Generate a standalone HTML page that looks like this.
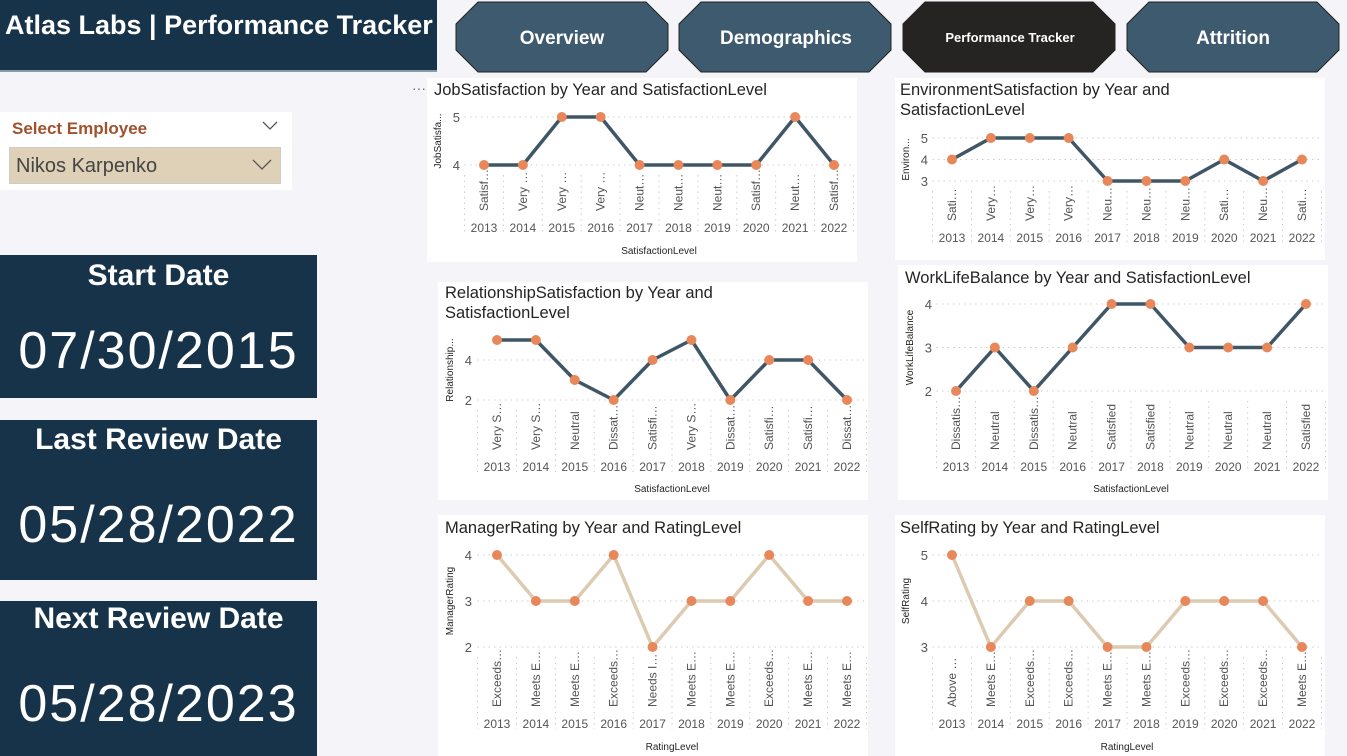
<!DOCTYPE html>
<html><head><meta charset="utf-8">
<style>
body{margin:0;width:1347px;height:756px;background:#f5f5f9;font-family:"Liberation Sans",sans-serif;position:relative;overflow:hidden}
.box{position:absolute;background:#17334a;color:#fff;text-align:center;font-weight:bold}
.panel{position:absolute;background:#fff}
</style></head><body>
<div class="box" style="left:0;top:0;width:437px;height:70px;text-align:left;border-bottom:2px solid #8a9aaa"><div style="position:absolute;left:5px;top:10px;font-size:27px;font-family:'Liberation Sans Narrow','Liberation Sans',sans-serif">Atlas Labs | Performance Tracker</div></div>

<svg style="position:absolute;left:0;top:0" width="1347" height="80">
<g><polygon points="478,2 646,2 668,24 668,50 646,72 478,72 456,50 456,24" fill="#3d5a6e" stroke="#222"/><text x="562" y="44" text-anchor="middle" fill="#fff" font-weight="bold" font-size="19">Overview</text></g>
<g><polygon points="701,2 869,2 891,24 891,50 869,72 701,72 679,50 679,24" fill="#3d5a6e" stroke="#222"/><text x="786" y="44" text-anchor="middle" fill="#fff" font-weight="bold" font-size="19">Demographics</text></g>
<g><polygon points="925,2 1093,2 1115,24 1115,50 1093,72 925,72 903,50 903,24" fill="#252423" stroke="#222"/><text x="1010" y="42" text-anchor="middle" fill="#fff" font-weight="bold" font-size="13">Performance Tracker</text></g>
<g><polygon points="1149,2 1317,2 1339,24 1339,50 1317,72 1149,72 1127,50 1127,24" fill="#3d5a6e" stroke="#222"/><text x="1233" y="44" text-anchor="middle" fill="#fff" font-weight="bold" font-size="19">Attrition</text></g>
</svg>

<div style="position:absolute;left:0;top:112px;width:292px;height:78px;background:#fff">
<div style="position:absolute;left:12px;top:7px;color:#a0522d;font-weight:bold;font-size:17px">Select Employee</div>
<svg style="position:absolute;left:262px;top:9px" width="16" height="10"><polyline points="1,1 8,8 15,1" fill="none" stroke="#555" stroke-width="1.3"/></svg>
<div style="position:absolute;left:9px;top:35px;width:272px;height:37px;background:#dfd1b7;border:1px solid #ccc;box-sizing:border-box">
<span style="position:absolute;left:6px;top:7px;font-size:20px;color:#444">Nikos Karpenko</span><svg style="position:absolute;right:8px;top:11px" width="20" height="12"><polyline points="1,1 10,10 19,1" fill="none" stroke="#555" stroke-width="1.3"/></svg></div></div>

<div class="box" style="left:0;top:255px;width:317px;height:143px"><div style="margin-top:4px;font-size:30px">Start Date</div><div style="font-size:52px;font-weight:normal;margin-top:28px;letter-spacing:2px">07/30/2015</div></div>
<div class="box" style="left:0;top:420px;width:317px;height:160px"><div style="margin-top:3px;font-size:30px">Last Review Date</div><div style="font-size:52px;font-weight:normal;margin-top:38px;letter-spacing:2px">05/28/2022</div></div>
<div class="box" style="left:0;top:601px;width:317px;height:155px"><div style="margin-top:1px;font-size:30px">Next Review Date</div><div style="font-size:52px;font-weight:normal;margin-top:38px;letter-spacing:2px">05/28/2023</div></div>

<svg id="charts" style="position:absolute;left:0;top:0" width="1347" height="756"></svg>

<script>
const years=["2013","2014","2015","2016","2017","2018","2019","2020","2021","2022"];
const jobCats=["Satisf…","Very …","Very …","Very …","Neut…","Neut…","Neut…","Satisf…","Neut…","Satisf…"];
const jobVals=[4,4,5,5,4,4,4,4,5,4];
const jobTicks=[4,5];
const envCats=["Sati…","Very…","Very…","Very…","Neu…","Neu…","Neu…","Sati…","Neu…","Sati…"];
const envVals=[4,5,5,5,3,3,3,4,3,4];
const envTicks=[3,4,5];
const relCats=["Very S…","Very S…","Neutral","Dissat…","Satisfi…","Very S…","Dissat…","Satisfi…","Satisfi…","Dissat…"];
const relVals=[5,5,3,2,4,5,2,4,4,2];
const relTicks=[2,4];
const wlbCats=["Dissatis…","Neutral","Dissatis…","Neutral","Satisfied","Satisfied","Neutral","Neutral","Neutral","Satisfied"];
const wlbVals=[2,3,2,3,4,4,3,3,3,4];
const wlbTicks=[2,3,4];
const mgrCats=["Exceeds…","Meets E…","Meets E…","Exceeds…","Needs I…","Meets E…","Meets E…","Exceeds…","Meets E…","Meets E…"];
const mgrVals=[4,3,3,4,2,3,3,4,3,3];
const mgrTicks=[2,3,4];
const selfCats=["Above …","Meets E…","Exceeds…","Exceeds…","Meets E…","Meets E…","Exceeds…","Exceeds…","Exceeds…","Meets E…"];
const selfVals=[5,3,4,4,3,3,4,4,4,3];
const selfTicks=[3,4,5];

const NS="http://www.w3.org/2000/svg";
const svg=document.getElementById('charts');
function mk(tag,a,p){const e=document.createElementNS(NS,tag);for(const k in a)e.setAttribute(k,a[k]);(p||svg).appendChild(e);return e;}

function chart(c,cats,vals,ticks){
  const g=mk('g',{});
  
  
  const bg=mk('rect',{x:c.px,y:c.py,width:c.pw,height:c.ph,fill:'#fff'},g);
  
  
  c.title.forEach((t,i)=>{const tt=mk('text',{x:c.tx,y:c.ty+i*20,'font-size':16.5,fill:'#252423'},g);tt.textContent=t;
    });
  const vmin=c.vmin,vmax=c.vmax;
  const yS=v=>c.yb+(v-vmin)/(vmax-vmin)*(c.yt-c.yb);
  const n=cats.length,step=(c.x1-c.x0)/(n-1);
  const xS=i=>c.x0+i*step;
  const gx0=c.x0-step/2,gx1=c.x1+step/2;
  ticks.forEach(t=>{
    mk('line',{x1:gx0,x2:gx1,y1:yS(t),y2:yS(t),stroke:'#ccc','stroke-dasharray':'1.5,4'},g);
    const l=mk('text',{x:c.ylx,y:yS(t)+5,'font-size':13,fill:'#555','text-anchor':'end'},g);l.textContent=t;
    
  });
  const yax=mk('text',{transform:`translate(${c.yax},${(c.yt+c.yb)/2}) rotate(-90)`,'font-size':10,fill:'#252423','text-anchor':'middle'},g);
  yax.textContent=c.ytitle;
  const gTop=Math.max(yS(vmin),yS(ticks[0]))+10;
  for(let i=0;i<=n;i++){const x=gx0+i*step;mk('line',{x1:x,x2:x,y1:gTop,y2:c.yearY+11,stroke:'#ccc','stroke-dasharray':'1.5,4'},g);}
  cats.forEach((s,i)=>{
    const t=mk('text',{transform:`translate(${xS(i)+4},${c.yearY-11}) rotate(-90)`,'font-size':12,fill:'#555'},g);t.textContent=s;
    
    const y=mk('text',{x:xS(i),y:c.yearY+10,'font-size':12,fill:'#555','text-anchor':'middle'},g);y.textContent=years[i];
    
  });
  const xt=mk('text',{x:(c.x0+c.x1)/2,y:c.xtY,'font-size':10,fill:'#252423','text-anchor':'middle'},g);xt.textContent=c.xtitle;
  
  const line=mk('polyline',{points:vals.map((v,i)=>xS(i)+','+yS(v)).join(' '),fill:'none',stroke:c.color,'stroke-width':3.5,'stroke-linejoin':'round'},g);
  
  vals.forEach((v,i)=>{const p=mk('circle',{cx:xS(i),cy:yS(v),r:5,fill:'#e8875a'},g);
    });
}
const dark='#3e5666',tan='#dccbb1';
chart({name:'job-satisfaction-chart',px:427,py:78,pw:430,ph:184,tx:434,ty:95,title:['JobSatisfaction by Year and SatisfactionLevel'],x0:484,x1:834,vmin:4,vmax:5,yb:165,yt:117,ylx:460,yax:441,ytitle:'JobSatisfa...',yearY:222,xtY:254,xtitle:'SatisfactionLevel',color:dark},jobCats,jobVals,jobTicks);
chart({name:'environment-satisfaction-chart',px:895,py:78,pw:430,ph:182,tx:900,ty:95,title:['EnvironmentSatisfaction by Year and','SatisfactionLevel'],x0:952,x1:1302,vmin:3,vmax:5,yb:181,yt:138,ylx:928,yax:909,ytitle:'Environ...',yearY:232,xtY:254,xtitle:'',color:dark},envCats,envVals,envTicks);
chart({name:'relationship-satisfaction-chart',px:438,py:282,pw:430,ph:218,tx:445,ty:298,title:['RelationshipSatisfaction by Year and','SatisfactionLevel'],x0:497,x1:847,vmin:2,vmax:5,yb:400,yt:340,ylx:472,yax:453,ytitle:'Relationship...',yearY:461,xtY:492,xtitle:'SatisfactionLevel',color:dark},relCats,relVals,relTicks);
chart({name:'work-life-balance-chart',px:898,py:265,pw:430,ph:235,tx:905,ty:283,title:['WorkLifeBalance by Year and SatisfactionLevel'],x0:956,x1:1306,vmin:2,vmax:4,yb:391,yt:304,ylx:932,yax:913,ytitle:'WorkLifeBalance',yearY:461,xtY:492,xtitle:'SatisfactionLevel',color:dark},wlbCats,wlbVals,wlbTicks);
chart({name:'manager-rating-chart',px:438,py:515,pw:430,ph:241,tx:445,ty:533,title:['ManagerRating by Year and RatingLevel'],x0:497,x1:847,vmin:2,vmax:4,yb:647,yt:555,ylx:472,yax:453,ytitle:'ManagerRating',yearY:718,xtY:750,xtitle:'RatingLevel',color:tan},mgrCats,mgrVals,mgrTicks);
chart({name:'self-rating-chart',px:895,py:515,pw:430,ph:241,tx:900,ty:533,title:['SelfRating by Year and RatingLevel'],x0:952,x1:1302,vmin:3,vmax:5,yb:647,yt:555,ylx:928,yax:909,ytitle:'SelfRating',yearY:718,xtY:750,xtitle:'RatingLevel',color:tan},selfCats,selfVals,selfTicks);
const dots=mk('text',{x:412,y:93,'font-size':14,fill:'#666'});dots.textContent='···';

</script>
</body></html>
